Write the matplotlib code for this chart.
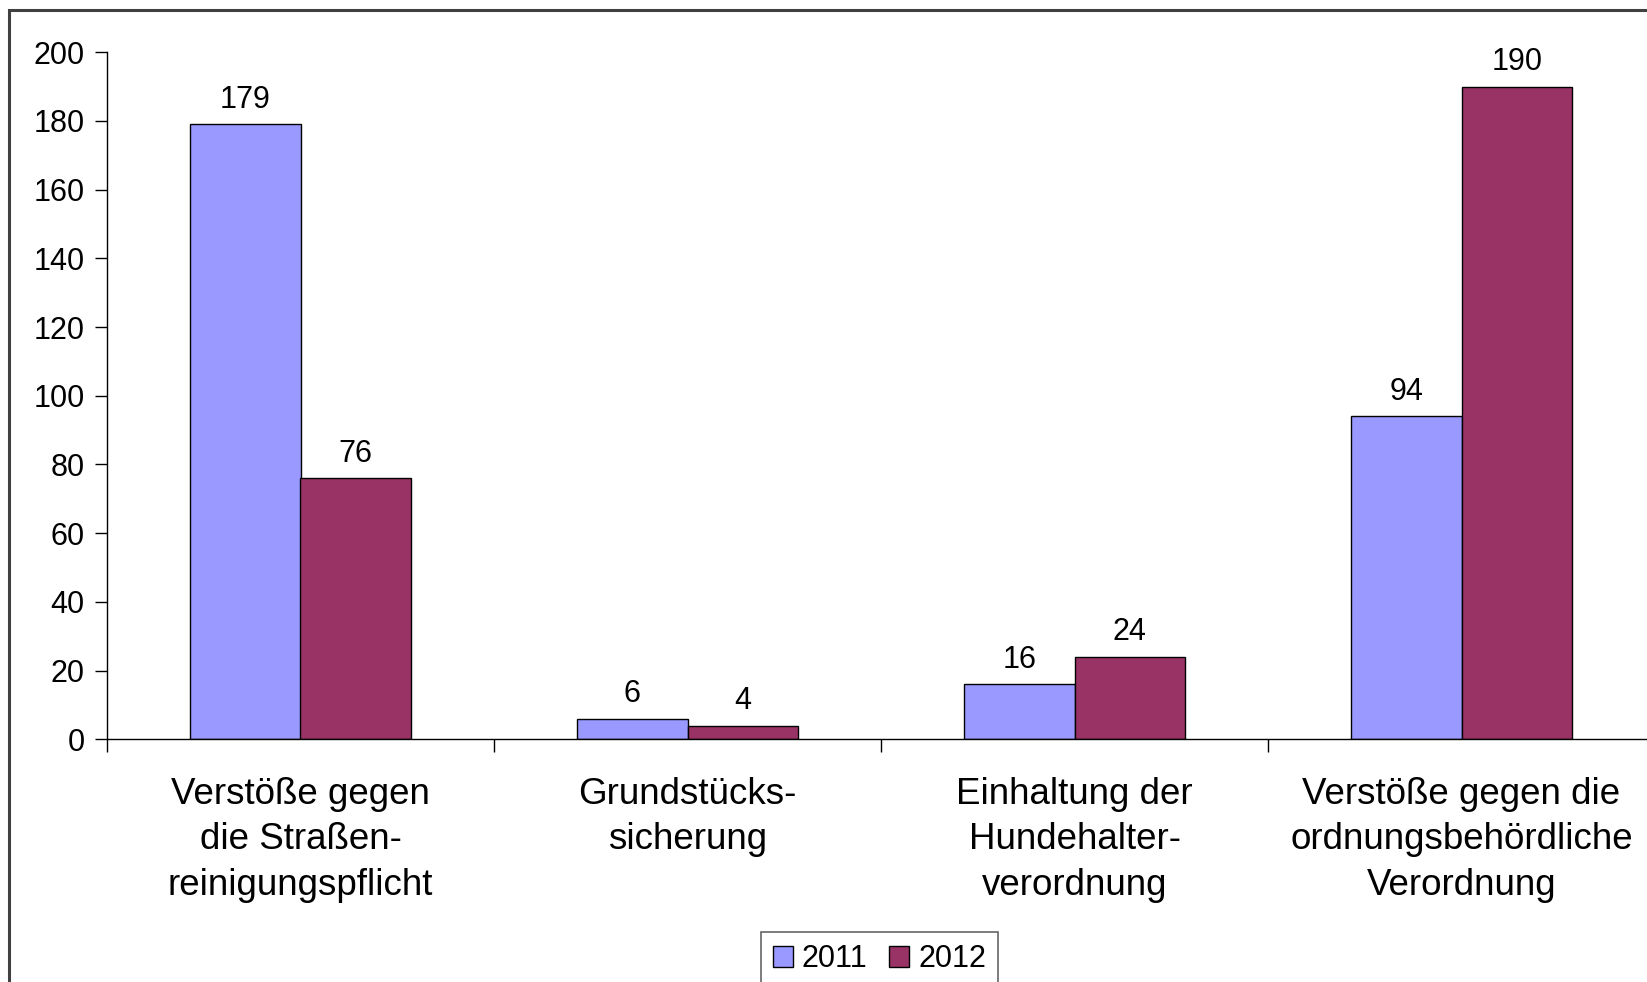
import matplotlib
matplotlib.use("Agg")
import matplotlib.pyplot as plt
import numpy as np
from matplotlib.patches import Rectangle

plt.rcParams['font.family'] = ['Liberation Sans', 'DejaVu Sans']

kategorien = ["Verstöße gegen\ndie Straßen-\nreinigungspflicht",
              "Grundstücks-\nsicherung",
              "Einhaltung der\nHundehalter-\nverordnung",
              "Verstöße gegen die\nordnungsbehördliche\nVerordnung"]
jahre = ["2011", "2012"]
werte_2011 = [179, 6, 16, 94]
werte_2012 = [76, 4, 24, 190]
farben = ["#9999FF", "#993366"]

W, H = 1647, 982
fig = plt.figure(figsize=(W / 100, H / 100), dpi=100)

# aeusserer Rahmen (rechts/unten ausserhalb des Bildes)
fig.patches.append(Rectangle((9 / W, -0.1), 1.2, 1 - 10 / H + 0.1, transform=fig.transFigure,
                             fill=False, edgecolor="#404040", linewidth=2.2))

ax = fig.add_axes([107 / W, 242.7 / H, 1548 / W, 687 / H])

x = np.arange(len(kategorien)) + 0.5
bw = 0.285
b1 = ax.bar(x - bw / 2, werte_2011, bw, color=farben[0], edgecolor="black", linewidth=1.0, label=jahre[0])
b2 = ax.bar(x + bw / 2, werte_2012, bw, color=farben[1], edgecolor="black", linewidth=1.0, label=jahre[1])

for bars in (b1, b2):
    for r in bars:
        ax.annotate(str(int(r.get_height())), (r.get_x() + r.get_width() / 2, r.get_height()),
                    xytext=(0, 7), textcoords="offset points", ha="center", va="bottom", fontsize=22)

ax.set_xlim(0, len(kategorien))
ax.set_ylim(0, 200)
ax.set_yticks(np.arange(0, 201, 20))
ax.set_xticks(np.arange(len(kategorien) + 1))
ax.set_xticklabels([])
ax.set_xticks(x, minor=True)
ax.set_xticklabels(kategorien, minor=True, fontsize=26.5, linespacing=1.39)
ax.tick_params(axis="x", which="minor", length=0, pad=27)
ax.tick_params(axis="x", which="major", length=9, width=1, direction="out")
ax.tick_params(axis="y", length=9, width=1, direction="out", labelsize=22, pad=7)

for s in ("top", "right"):
    ax.spines[s].set_visible(False)
for s in ("left", "bottom"):
    ax.spines[s].set_linewidth(1.0)

leg = fig.legend(handles=[b1, b2], labels=jahre, loc="upper center",
                 bbox_to_anchor=(879.5 / W, 1 - 932 / H), ncol=2, fontsize=22,
                 handlelength=0.65, handleheight=0.65, handletextpad=0.3, columnspacing=0.7,
                 borderpad=0.4, borderaxespad=0, frameon=True, fancybox=False)
leg.get_frame().set_edgecolor("#404040")
leg.get_frame().set_linewidth(1.2)

fig.savefig("out.png", dpi=100)
